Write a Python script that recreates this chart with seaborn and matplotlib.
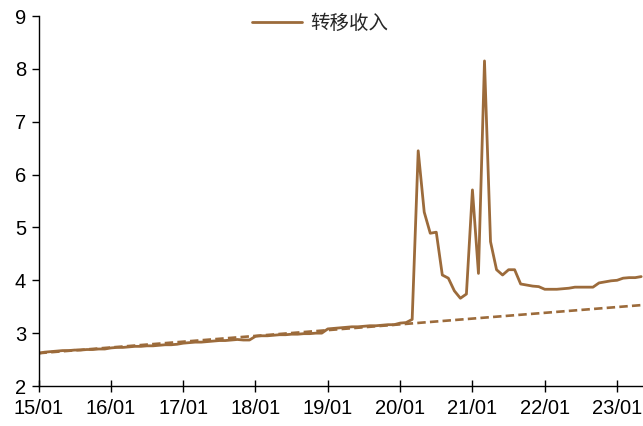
import matplotlib
matplotlib.use("Agg")
import matplotlib.pyplot as plt
import numpy as np
import pandas as pd
import seaborn as sns

# monthly values, 2015/01 .. 2023/05
values = [
    # 2015
    2.62, 2.64, 2.65, 2.66, 2.67, 2.67, 2.68, 2.68, 2.69, 2.69, 2.70, 2.70,
    # 2016
    2.72, 2.73, 2.73, 2.74, 2.75, 2.75, 2.76, 2.76, 2.77, 2.78, 2.78, 2.79,
    # 2017
    2.81, 2.82, 2.83, 2.83, 2.84, 2.85, 2.86, 2.86, 2.87, 2.88, 2.87, 2.87,
    # 2018
    2.94, 2.95, 2.95, 2.96, 2.97, 2.97, 2.98, 2.98, 2.99, 2.99, 3.00, 3.00,
    # 2019
    3.08, 3.09, 3.10, 3.11, 3.12, 3.12, 3.13, 3.14, 3.14, 3.15, 3.16, 3.16,
    # 2020
    3.19, 3.20, 3.26, 6.45, 5.29, 4.89, 4.91, 4.10, 4.04, 3.80, 3.66, 3.74,
    # 2021
    5.71, 4.13, 8.15, 4.73, 4.20, 4.10, 4.20, 4.20, 3.93, 3.91, 3.89, 3.88,
    # 2022
    3.83, 3.83, 3.83, 3.84, 3.85, 3.87, 3.87, 3.87, 3.87, 3.95, 3.97, 3.99,
    # 2023
    4.00, 4.04, 4.05, 4.05, 4.07,
]
months = list(range(len(values)))

# dashed trend line end points
trend_x = [0, 100]
trend_y = [2.62, 3.53]

tick_pos = [0, 12, 24, 36, 48, 60, 72, 84, 96]
tick_labels = ["15/01", "16/01", "17/01", "18/01", "19/01",
               "20/01", "21/01", "22/01", "23/01"]

color = "#9C6B3B"

sns.set_style("ticks")
plt.rcParams["font.family"] = ["Liberation Sans", "DejaVu Sans"]

df = pd.DataFrame({"month": months, "value": values})
trend = pd.DataFrame({"month": trend_x, "value": trend_y})

fig = plt.figure(figsize=(6.43, 4.26), dpi=100)
ax = fig.add_axes([38.5 / 643, 1 - 386 / 426, 1 - 38.5 / 643, (386 - 16) / 426])

sns.lineplot(data=trend, x="month", y="value", ax=ax, color=color,
             linewidth=1.9, linestyle=(0, (3.2, 1.6)))
sns.lineplot(data=df, x="month", y="value", ax=ax, color=color,
             linewidth=2.0, label="转移收入")

ax.set_xlim(0, 100.3)
ax.set_ylim(2, 9)
ax.set_xticks(tick_pos)
ax.set_xticklabels(tick_labels)
ax.set_yticks(range(2, 10))
ax.set_xlabel("")
ax.set_ylabel("")

for s in ["top", "right"]:
    ax.spines[s].set_visible(False)
for s in ["left", "bottom"]:
    ax.spines[s].set_color("black")
    ax.spines[s].set_linewidth(1.0)

ax.tick_params(axis="x", direction="inout", length=8, width=1.0,
               labelsize=14.5, pad=5, colors="black")
ax.tick_params(axis="y", direction="out", length=5, width=1.0,
               labelsize=14.5, pad=4, colors="black")

leg = ax.legend(loc="center", bbox_to_anchor=(320 / 643, 1 - 23 / 426),
                bbox_transform=fig.transFigure, frameon=False,
                handlelength=2.6, handletextpad=0.4,
                prop={"family": ["Noto Sans CJK SC", "DejaVu Sans"], "size": 14})

fig.savefig("out.png", dpi=100)
